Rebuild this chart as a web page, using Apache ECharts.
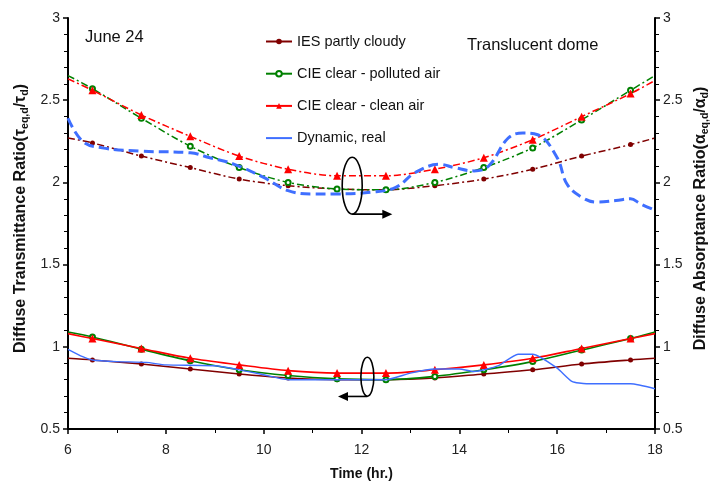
<!DOCTYPE html>
<html><head><meta charset="utf-8">
<script src="https://cdn.jsdelivr.net/npm/echarts@6/dist/echarts.min.js"></script>
<style>html,body{margin:0;padding:0;background:#fff}#c{width:711px;height:486px}</style>
</head><body><div id="c"></div><script>
// ---- data ----
const seriesNames = ['IES partly cloudy', 'CIE clear - polluted air', 'CIE clear - clean air', 'Dynamic, real'];
const modelHours = [6, 6.5, 7.5, 8.5, 9.5, 10.5, 11.5, 12.5, 13.5, 14.5, 15.5, 16.5, 17.5, 18];
// lower set: transmittance ratio (left axis)
const iesLower      = [0.93, 0.92, 0.895, 0.865, 0.835, 0.81, 0.80, 0.80, 0.81, 0.835, 0.86, 0.895, 0.92, 0.93];
const pollutedLower = [1.09, 1.06, 0.985, 0.915, 0.86, 0.825, 0.805, 0.80, 0.82, 0.86, 0.91, 0.98, 1.05, 1.09];
const cleanLower    = [1.08, 1.05, 0.99, 0.93, 0.89, 0.855, 0.84, 0.84, 0.86, 0.89, 0.93, 0.99, 1.05, 1.08];
// upper set: absorptance ratio (right axis)
const iesUpper      = [2.27, 2.24, 2.16, 2.09, 2.02, 1.98, 1.96, 1.955, 1.98, 2.02, 2.08, 2.16, 2.23, 2.27];
const pollutedUpper = [2.65, 2.57, 2.39, 2.22, 2.09, 2.00, 1.96, 1.955, 2.00, 2.09, 2.21, 2.38, 2.56, 2.65];
const cleanUpper    = [2.63, 2.56, 2.41, 2.28, 2.16, 2.08, 2.04, 2.04, 2.08, 2.15, 2.26, 2.40, 2.54, 2.62];
// dynamic, real
const dynUpperHours  = [6, 6.3, 6.7, 7.5, 8.5, 8.9, 9.4, 10, 10.5, 11, 11.5, 12.2, 12.7, 13.1, 13.6, 13.9, 14.3, 14.6, 15.0, 15.3, 15.6, 16.0, 16.2, 16.5, 16.8, 17.2, 17.5, 17.7, 18];
const dynUpperValues = [2.39, 2.25, 2.21, 2.19, 2.18, 2.15, 2.11, 2.03, 1.95, 1.93, 1.93, 1.94, 1.97, 2.06, 2.11, 2.09, 2.07, 2.10, 2.27, 2.30, 2.29, 2.15, 1.99, 1.91, 1.88, 1.89, 1.90, 1.87, 1.83];
const dynLowerHours  = [6, 6.3, 6.5, 7, 7.6, 8, 9, 9.5, 10, 10.5, 11, 12, 12.5, 13, 13.5, 14, 14.3, 14.8, 15.2, 15.5, 16, 16.3, 16.6, 17.5, 18];
const dynLowerValues = [0.985, 0.94, 0.92, 0.91, 0.905, 0.89, 0.885, 0.86, 0.83, 0.80, 0.80, 0.80, 0.80, 0.84, 0.865, 0.865, 0.85, 0.885, 0.955, 0.955, 0.87, 0.79, 0.775, 0.775, 0.745];
const yTicks = [0.5, 1, 1.5, 2, 2.5, 3];
const xTicks = [6, 8, 10, 12, 14, 16, 18];

// ---- styles ----
const colors = ['#800000', '#008000', '#ff0000', '#3f6fff'];
const FONT = '"Liberation Sans", Arial, sans-serif';

function modelData(values) {
  return modelHours.map((t, i) => {
    const d = { value: [t, values[i]] };
    if (t === modelHours[0] || t === modelHours[modelHours.length - 1]) d.symbol = 'none';
    return d;
  });
}
function pairData(hs, vs) { return hs.map((t, i) => [t, vs[i]]); }

const dashDot = [7, 3, 2, 3];
const series = [
  { name: seriesNames[0], type: 'line', yAxisIndex: 0, data: modelData(iesLower), smooth: 0.3,
    symbol: 'circle', symbolSize: 5, itemStyle: { color: colors[0] }, lineStyle: { color: colors[0], width: 1.6 }, z: 3 },
  { name: seriesNames[1], type: 'line', yAxisIndex: 0, data: modelData(pollutedLower), smooth: 0.3,
    symbol: 'emptyCircle', symbolSize: 5, itemStyle: { color: colors[1], borderWidth: 1.6 }, lineStyle: { color: colors[1], width: 1.6 }, z: 4 },
  { name: seriesNames[2], type: 'line', yAxisIndex: 0, data: modelData(cleanLower), smooth: 0.3,
    symbol: 'triangle', symbolSize: 8, itemStyle: { color: colors[2] }, lineStyle: { color: colors[2], width: 1.6 }, z: 5 },
  { name: seriesNames[3], type: 'line', yAxisIndex: 0, data: pairData(dynLowerHours, dynLowerValues), smooth: 0.2,
    symbol: 'none', lineStyle: { color: colors[3], width: 1.4 }, itemStyle: { color: colors[3] }, z: 6 },
  { name: seriesNames[0], type: 'line', yAxisIndex: 1, data: modelData(iesUpper), smooth: 0.3,
    symbol: 'circle', symbolSize: 5, itemStyle: { color: colors[0] }, lineStyle: { color: colors[0], width: 1.5, type: dashDot }, z: 3 },
  { name: seriesNames[1], type: 'line', yAxisIndex: 1, data: modelData(pollutedUpper), smooth: 0.3,
    symbol: 'emptyCircle', symbolSize: 5, itemStyle: { color: colors[1], borderWidth: 1.4 }, lineStyle: { color: colors[1], width: 1.5, type: dashDot }, z: 4 },
  { name: seriesNames[2], type: 'line', yAxisIndex: 1, data: modelData(cleanUpper), smooth: 0.3,
    symbol: 'triangle', symbolSize: 8, itemStyle: { color: colors[2] }, lineStyle: { color: colors[2], width: 1.5, type: dashDot }, z: 5 },
  { name: seriesNames[3], type: 'line', yAxisIndex: 1, data: pairData(dynUpperHours, dynUpperValues), smooth: 0.4,
    symbol: 'none', lineStyle: { color: colors[3], width: 3, type: [10, 5] }, itemStyle: { color: colors[3] }, z: 6 }
];

function yAxis(pos) {
  return {
    type: 'value', position: pos, min: yTicks[0], max: yTicks[yTicks.length - 1], interval: 0.5,
    axisLine: { show: true, lineStyle: { color: '#000', width: 2 } },
    axisTick: { show: true, length: 5, lineStyle: { color: '#000', width: 1.5 } },
    minorTick: { show: true, splitNumber: 5, length: 4, lineStyle: { color: '#000', width: 1 } },
    splitLine: { show: false },
    axisLabel: { color: '#222', fontSize: 14, fontFamily: FONT, margin: 8,
      formatter: v => (yTicks.indexOf(v) >= 0 ? String(v) : '') }
  };
}

const legendData = seriesNames.map((n, i) =>
  i === 3 ? { name: n, icon: 'path://M0,0H26V2H0Z' } : { name: n });

const chart = echarts.init(document.getElementById('c'), null, { renderer: 'canvas' });
chart.setOption({
  animation: false,
  backgroundColor: '#fff',
  grid: { left: 68, right: 56, top: 18, bottom: 51, containLabel: false },
  legend: {
    data: legendData, orient: 'vertical', left: 260, top: 29,
    itemWidth: 26, itemHeight: 7, itemGap: 17.2,
    textStyle: { fontSize: 14.5, fontFamily: FONT, color: '#111' }
  },
  xAxis: {
    type: 'value', min: xTicks[0], max: xTicks[xTicks.length - 1], interval: 2,
    name: 'Time (hr.)', nameLocation: 'middle', nameGap: 38,
    nameTextStyle: { fontSize: 14, fontWeight: 'bold', fontFamily: FONT, color: '#111' },
    axisLine: { lineStyle: { color: '#000', width: 2 } },
    axisTick: { length: 5, lineStyle: { color: '#000', width: 1.5 } },
    minorTick: { show: true, splitNumber: 2, length: 4, lineStyle: { color: '#000', width: 1 } },
    splitLine: { show: false },
    axisLabel: { color: '#222', fontSize: 14, fontFamily: FONT, margin: 14 }
  },
  yAxis: [yAxis('left'), yAxis('right')],
  series: series
});

// ---- annotations positioned through the axes ----
const pL = v => chart.convertToPixel({ xAxisIndex: 0, yAxisIndex: 0 }, v);
const pR = v => chart.convertToPixel({ xAxisIndex: 0, yAxisIndex: 1 }, v);
const upC = pR([11.81, 1.98]), upA0 = pR([11.81, 1.807]), upA1 = pR([12.63, 1.807]);
const loC = pL([12.12, 0.818]), loA0 = pL([12.12, 0.698]), loA1 = pL([11.52, 0.698]);
const plotMid = (pL([6, 0.5])[1] + pL([6, 3])[1]) / 2;
const rich = {
  b: { fontSize: 16, fontWeight: 'bold', fontFamily: FONT, fill: '#111' },
  s: { fontSize: 10.5, fontWeight: 'bold', fontFamily: FONT, fill: '#111', padding: [8, 0, 0, 0] }
};
const stroke = { stroke: '#000', lineWidth: 1.6, fill: null };
chart.setOption({
  graphic: [
    { type: 'ellipse', shape: { cx: upC[0], cy: upC[1], rx: 10, ry: 28.5 }, style: stroke, z: 20 },
    { type: 'line', shape: { x1: upA0[0], y1: upA0[1], x2: upA1[0] - 8, y2: upA1[1] }, style: stroke, z: 20 },
    { type: 'polygon', shape: { points: [[upA1[0], upA1[1]], [upA1[0] - 10, upA1[1] - 4.5], [upA1[0] - 10, upA1[1] + 4.5]] }, style: { fill: '#000' }, z: 20 },
    { type: 'ellipse', shape: { cx: loC[0], cy: loC[1], rx: 6.5, ry: 19.5 }, style: stroke, z: 20 },
    { type: 'line', shape: { x1: loA0[0], y1: loA0[1], x2: loA1[0] + 8, y2: loA1[1] }, style: stroke, z: 20 },
    { type: 'polygon', shape: { points: [[loA1[0], loA1[1]], [loA1[0] + 10, loA1[1] - 4.5], [loA1[0] + 10, loA1[1] + 4.5]] }, style: { fill: '#000' }, z: 20 },
    { type: 'text', x: 85, y: 37, style: { text: 'June 24', font: '16.5px ' + FONT, fill: '#111', verticalAlign: 'middle' }, z: 20 },
    { type: 'text', x: 467, y: 45, style: { text: 'Translucent dome', font: '16.5px ' + FONT, fill: '#111', verticalAlign: 'middle' }, z: 20 },
    { type: 'text', x: 21, y: plotMid - 5, rotation: Math.PI / 2,
      style: { text: '{b|Diffuse Transmittance Ratio(τ}{s|eq,d}{b|/τ}{s|d}{b|)}', rich: rich, align: 'center', verticalAlign: 'middle' }, z: 20 },
    { type: 'text', x: 701, y: plotMid - 5, rotation: Math.PI / 2,
      style: { text: '{b|Diffuse Absorptance Ratio(α}{s|eq,d}{b|/α}{s|d}{b|)}', rich: rich, align: 'center', verticalAlign: 'middle' }, z: 20 }
  ]
});
</script></body></html>
